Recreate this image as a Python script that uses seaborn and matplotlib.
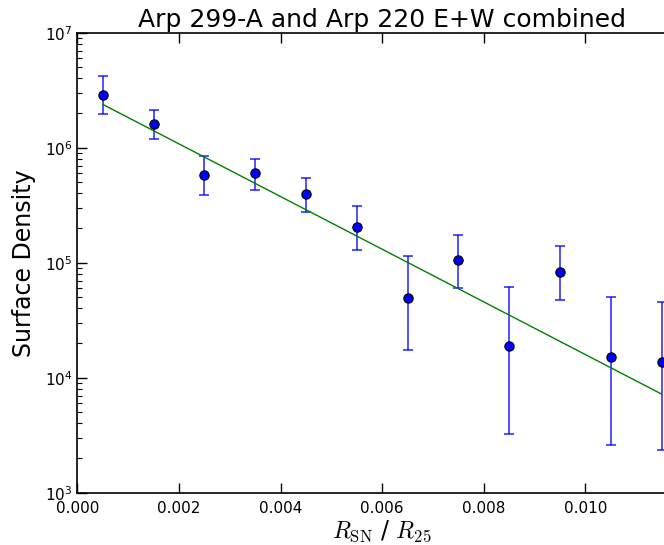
import numpy as np
import pandas as pd
import matplotlib
matplotlib.use("Agg")
import matplotlib.pyplot as plt
import seaborn as sns

# ---- data ----
r_ratio = [0.0005, 0.0015, 0.0025, 0.0035, 0.0045, 0.0055,
           0.0065, 0.0075, 0.0085, 0.0095, 0.0105, 0.0115]
density = [2.87e6, 1.61e6, 5.79e5, 5.97e5, 3.93e5, 2.03e5,
           4.9e4, 1.05e5, 1.87e4, 8.36e4, 1.51e4, 1.38e4]
err_upper = [4.2e6, 2.11e6, 8.5e5, 8.0e5, 5.48e5, 3.13e5,
             1.14e5, 1.74e5, 6.15e4, 1.41e5, 5.0e4, 4.55e4]
err_lower = [1.95e6, 1.20e6, 3.88e5, 4.28e5, 2.76e5, 1.29e5,
             1.74e4, 6.0e4, 3.22e3, 4.74e4, 2.6e3, 2.35e3]
# exponential fit: log10(S) = fit_log_a + fit_slope * x
fit_log_a = 6.4915
fit_slope = -229.0

title = "Arp 299-A and Arp 220 E+W combined"
xlabel = r"$R_{\rm SN}$ / $R_{25}$"
ylabel = "Surface Density"

sns.set_style("ticks")
plt.rcParams["font.family"] = ["DejaVu Sans"]
plt.rcParams["mathtext.fontset"] = "cm"
plt.rcParams["xtick.direction"] = "in"
plt.rcParams["ytick.direction"] = "in"
plt.rcParams["xtick.top"] = True
plt.rcParams["ytick.right"] = True
for k in ["text.color", "axes.labelcolor", "xtick.color", "ytick.color", "axes.edgecolor"]:
    plt.rcParams[k] = "black"

df = pd.DataFrame({"x": r_ratio, "y": density})
x_arr = np.array(r_ratio)
y_arr = np.array(density)
yerr = np.vstack([y_arr - np.array(err_lower), np.array(err_upper) - y_arr])
fit_df = pd.DataFrame({"x": r_ratio, "fit": 10 ** (fit_log_a + fit_slope * x_arr)})

fig = plt.figure(figsize=(6.64, 5.45), dpi=100)
ax = fig.add_axes([77.3 / 664, 1 - 492.7 / 545, 609.6 / 664, 460 / 545])

ax.errorbar(x_arr, y_arr, yerr=yerr, fmt="none", ecolor="blue", elinewidth=1.2,
            capsize=3.5, capthick=1.2, alpha=0.8, zorder=2)
sns.lineplot(data=fit_df, x="x", y="fit", color="green", linewidth=1.0, ax=ax, zorder=3)
sns.scatterplot(data=df, x="x", y="y", color="blue", edgecolor="black", linewidth=0.8,
                s=45, ax=ax, zorder=4, clip_on=False)

ax.set_yscale("log")
ax.set_xlim(0, 0.012)
ax.set_ylim(1e3, 1e7)
ax.set_xticks([0.0, 0.002, 0.004, 0.006, 0.008, 0.010])
ax.set_xticklabels(["0.000", "0.002", "0.004", "0.006", "0.008", "0.010"])
ax.tick_params(axis="both", which="major", labelsize=11, length=7, width=1)
ax.tick_params(axis="x", which="major", pad=6)
ax.tick_params(axis="y", which="minor", length=3.5, width=0.8)
for s in ax.spines.values():
    s.set_linewidth(1.2)

ax.set_title(title, fontsize=18, pad=4)
ax.set_xlabel(xlabel, fontsize=17, labelpad=2)
ax.set_ylabel(ylabel, fontsize=17, labelpad=6)

fig.savefig("out.png", dpi=100)
